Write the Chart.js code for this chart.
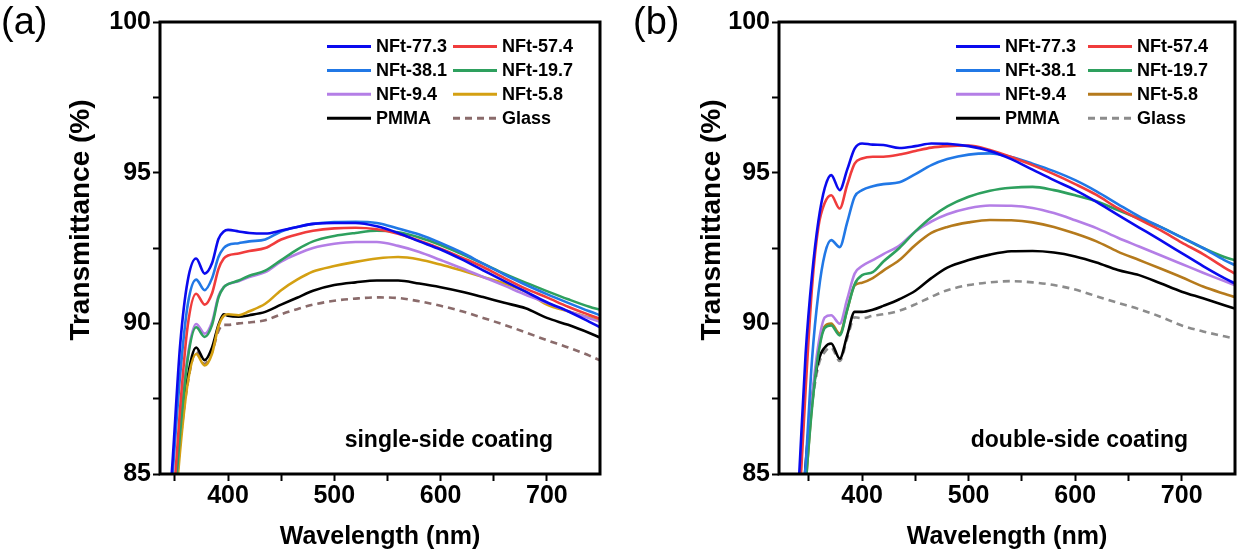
<!DOCTYPE html>
<html>
<head>
<meta charset="utf-8">
<script src="https://cdn.jsdelivr.net/npm/chart.js@4.4.1/dist/chart.umd.min.js"></script>
<style>
  body { margin: 0; background: #fff; }
  .panel { position: absolute; top: 0; height: 559px; }
  #boxA { left: 0; width: 620px; }
  #boxB { left: 620px; width: 619px; }
</style>
</head>
<body>
<div class="panel" id="boxA"><canvas id="chartA"></canvas></div>
<div class="panel" id="boxB"><canvas id="chartB"></canvas></div>
<script>
const seriesNames = ['NFt-77.3', 'NFt-57.4', 'NFt-38.1', 'NFt-19.7', 'NFt-9.4', 'NFt-5.8', 'PMMA', 'Glass'];
const xTicks = [350, 400, 450, 500, 550, 600, 650, 700];
const yTicks = [85, 87.5, 90, 92.5, 95, 97.5, 100];

// (a) single-side coating
const wavelengthA = [340, 347, 355, 362, 370, 378, 385, 391, 396, 400, 410, 420, 435, 450, 465, 480, 500, 520, 540, 560, 580, 600, 620, 640, 660, 680, 700, 720, 740, 750];
const singleNFt773 = [82.0, 85.0, 89.3, 91.4, 92.15, 91.65, 92.0, 92.8, 93.05, 93.1, 93.05, 93.0, 92.98, 93.08, 93.2, 93.3, 93.33, 93.33, 93.22, 93.0, 92.72, 92.45, 92.12, 91.76, 91.4, 91.05, 90.7, 90.4, 90.05, 89.87];
const singleNFt574 = [80.5, 83.3, 87.2, 89.9, 90.98, 90.62, 91.0, 91.8, 92.15, 92.25, 92.32, 92.4, 92.5, 92.78, 92.95, 93.07, 93.15, 93.17, 93.12, 92.97, 92.74, 92.48, 92.18, 91.87, 91.5, 91.15, 90.86, 90.55, 90.28, 90.15];
const singleNFt381 = [81.5, 84.6, 88.3, 90.6, 91.45, 91.1, 91.5, 92.2, 92.5, 92.6, 92.66, 92.72, 92.78, 93.05, 93.2, 93.3, 93.36, 93.37, 93.33, 93.15, 92.95, 92.67, 92.35, 91.98, 91.62, 91.28, 90.97, 90.68, 90.4, 90.27];
const singleNFt197 = [80.0, 82.8, 86.4, 88.8, 89.87, 89.55, 89.95, 90.85, 91.2, 91.3, 91.42, 91.58, 91.75, 92.1, 92.45, 92.72, 92.9, 93.0, 93.07, 93.02, 92.85, 92.6, 92.3, 91.98, 91.65, 91.35, 91.07, 90.8, 90.55, 90.45];
const singleNFt94 = [80.0, 82.8, 86.5, 88.9, 89.98, 89.66, 90.05, 90.9, 91.2, 91.3, 91.4, 91.54, 91.7, 92.05, 92.3, 92.5, 92.64, 92.7, 92.7, 92.57, 92.37, 92.1, 91.83, 91.54, 91.25, 90.95, 90.68, 90.4, 90.17, 90.05];
const singleNFt58 = [79.5, 82.3, 85.8, 88.0, 88.98, 88.6, 89.0, 89.9, 90.25, 90.3, 90.27, 90.4, 90.65, 91.1, 91.45, 91.72, 91.9, 92.04, 92.15, 92.2, 92.12, 91.95, 91.75, 91.54, 91.32, 91.05, 90.62, 90.4, 90.2, 90.08];
const singlePMMA = [80.0, 82.8, 86.3, 88.2, 89.2, 88.78, 89.2, 89.95, 90.3, 90.25, 90.22, 90.27, 90.38, 90.62, 90.85, 91.08, 91.27, 91.36, 91.42, 91.42, 91.32, 91.2, 91.05, 90.87, 90.68, 90.5, 90.18, 89.95, 89.68, 89.53];
const singleGlass = [80.0, 82.6, 86.0, 88.0, 89.05, 88.65, 89.05, 89.75, 89.95, 89.95, 90.0, 90.03, 90.1, 90.3, 90.47, 90.62, 90.75, 90.82, 90.86, 90.84, 90.73, 90.58, 90.4, 90.18, 89.95, 89.7, 89.44, 89.2, 88.93, 88.77];

// (b) double-side coating
const wavelengthB = [335, 341, 347, 353, 359, 365, 371, 379, 386, 393, 400, 410, 420, 435, 450, 465, 480, 500, 520, 540, 560, 580, 600, 620, 640, 660, 680, 700, 720, 740, 750];
const doubleNFt773 = [81.5, 85.0, 89.0, 91.6, 93.4, 94.5, 94.92, 94.42, 95.1, 95.8, 95.97, 95.93, 95.92, 95.82, 95.88, 95.97, 95.96, 95.88, 95.72, 95.45, 95.1, 94.75, 94.42, 94.03, 93.6, 93.18, 92.76, 92.33, 91.9, 91.5, 91.32];
const doubleNFt574 = [80.5, 83.9, 87.8, 91.2, 93.2, 94.0, 94.25, 93.81, 94.6, 95.3, 95.47, 95.53, 95.53, 95.6, 95.72, 95.83, 95.88, 95.9, 95.75, 95.52, 95.25, 94.95, 94.62, 94.26, 93.82, 93.45, 93.09, 92.68, 92.3, 91.85, 91.65];
const doubleNFt381 = [79.5, 82.6, 85.3, 88.8, 91.0, 92.3, 92.76, 92.53, 93.35, 94.2, 94.42, 94.55, 94.62, 94.68, 94.95, 95.25, 95.45, 95.6, 95.64, 95.52, 95.3, 95.05, 94.75, 94.38, 93.96, 93.55, 93.2, 92.85, 92.5, 92.1, 91.93];
const doubleNFt197 = [78.0, 81.5, 84.6, 87.2, 89.0, 89.85, 89.93, 89.6, 90.45, 91.3, 91.6, 91.7, 92.05, 92.5, 93.05, 93.52, 93.88, 94.2, 94.4, 94.5, 94.53, 94.42, 94.25, 94.05, 93.76, 93.48, 93.2, 92.85, 92.5, 92.2, 92.09];
const doubleNFt94 = [78.0, 81.6, 84.8, 87.5, 89.3, 90.2, 90.27, 89.99, 90.8, 91.65, 91.9, 92.1, 92.3, 92.58, 93.05, 93.38, 93.62, 93.82, 93.91, 93.9, 93.83, 93.66, 93.42, 93.16, 92.84, 92.55, 92.26, 91.97, 91.68, 91.4, 91.26];
const doubleNFt58 = [78.0, 81.5, 84.6, 87.3, 89.1, 89.9, 89.99, 89.66, 90.45, 91.26, 91.35, 91.5, 91.75, 92.1, 92.6, 93.0, 93.2, 93.35, 93.43, 93.42, 93.35, 93.2, 92.98, 92.72, 92.38, 92.1, 91.82, 91.53, 91.22, 90.98, 90.87];
const doublePMMA = [78.5, 82.0, 85.3, 87.5, 88.77, 89.2, 89.33, 88.83, 89.6, 90.38, 90.38, 90.45, 90.58, 90.8, 91.08, 91.5, 91.85, 92.1, 92.28, 92.39, 92.4, 92.35, 92.22, 92.02, 91.77, 91.6, 91.33, 91.05, 90.83, 90.6, 90.49];
const doubleGlass = [78.3, 81.8, 85.1, 87.3, 88.6, 89.05, 89.2, 88.75, 89.5, 90.2, 90.17, 90.25, 90.3, 90.42, 90.63, 90.88, 91.1, 91.27, 91.36, 91.4, 91.36, 91.27, 91.12, 90.9, 90.68, 90.47, 90.22, 89.93, 89.73, 89.57, 89.49];

const colorsA = ['#0a0aee', '#f03c3c', '#2178e6', '#2ea05e', '#b47ee6', '#d4a012', '#000000', '#8a6b6b'];
const colorsB = ['#0a0aee', '#f03c3c', '#2178e6', '#2ea05e', '#b47ee6', '#b57a1c', '#000000', '#8c8c8c'];

const FONT = '"Liberation Sans", Arial, sans-serif';

function makeDatasets(wl, series, colors) {
    return series.map((vals, i) => ({
        label: seriesNames[i],
        data: wl.map((x, j) => ({x: x, y: vals[j]})),
        borderColor: colors[i],
        borderWidth: 2.6,
        borderDash: seriesNames[i] === 'Glass' ? [7, 5] : [],
        pointRadius: 0,
        cubicInterpolationMode: 'monotone',
        fill: false
    }));
}

// box frame, panel letter, note and the y title (placed like the original)
const framePlugin = {
    id: 'framePlugin',
    afterDatasetsDraw(chart, args, opts) {
        const ctx = chart.ctx;
        const a = chart.chartArea;
        ctx.save();
        ctx.strokeStyle = '#000';
        ctx.lineWidth = 3;
        ctx.strokeRect(a.left, a.top, a.right - a.left, a.bottom - a.top);
        ctx.fillStyle = '#000';
        ctx.textBaseline = 'middle';
        ctx.textAlign = 'left';
        ctx.font = '38px ' + FONT;
        ctx.fillText(opts.tag, opts.tagX, 24);
        ctx.textAlign = 'right';
        ctx.font = 'bold 23px ' + FONT;
        ctx.fillText(opts.note, a.right - 47, 441);
        ctx.translate(opts.titleX, opts.titleY);
        ctx.rotate(-Math.PI / 2);
        ctx.textAlign = 'center';
        ctx.font = 'bold 28px ' + FONT;
        ctx.fillText('Transmittance (%)', 0, 0);
        ctx.restore();
    }
};

const gridLegend = {
    id: 'gridLegend',
    afterDraw(chart, args, opts) {
        const ctx = chart.ctx;
        const right = chart.chartArea.right;
        ctx.save();
        ctx.font = 'bold 18px ' + FONT;
        ctx.textBaseline = 'middle';
        ctx.textAlign = 'left';
        chart.data.datasets.forEach((ds, i) => {
            const col = i % 2;
            const row = Math.floor(i / 2);
            const x = right - (col === 0 ? opts.col1 : opts.col2);
            const y = opts.top + row * 23.9;
            ctx.strokeStyle = ds.borderColor;
            ctx.lineWidth = 3;
            ctx.setLineDash(ds.borderDash);
            ctx.beginPath();
            ctx.moveTo(x, y);
            ctx.lineTo(x + 44, y);
            ctx.stroke();
            ctx.setLineDash([]);
            ctx.fillStyle = '#000';
            ctx.fillText(ds.label, x + 49, y + 1);
        });
        ctx.restore();
    }
};

function makeChart(id, wl, series, colors, xMin, opts) {
    return new Chart(document.getElementById(id).getContext('2d'), {
        type: 'line',
        data: {datasets: makeDatasets(wl, series, colors)},
        plugins: [framePlugin, gridLegend],
        options: {
            responsive: true,
            maintainAspectRatio: false,
            animation: false,
            layout: {padding: {left: 0, top: 22, right: opts.padRight, bottom: 0}},
            plugins: {
                legend: {display: false},
                tooltip: {enabled: false},
                framePlugin: {tag: opts.tag, tagX: opts.tagX, note: opts.note, titleX: opts.titleX, titleY: 220},
                gridLegend: {col1: opts.col1, col2: 147, top: 46.5}
            },
            scales: {
                x: {
                    type: 'linear',
                    min: xMin,
                    max: 750,
                    afterBuildTicks: s => { s.ticks = xTicks.map(v => ({value: v})); },
                    afterFit: s => { s.height = 85; },
                    border: {display: false},
                    grid: {drawOnChartArea: false, drawTicks: true, tickLength: 7, tickWidth: 2, color: '#000'},
                    ticks: {
                        autoSkip: false, maxRotation: 0, padding: 0, color: '#000',
                        font: {family: FONT, size: 25, weight: 'bold'},
                        callback: v => (v % 100 === 0 ? v : '')
                    },
                    title: {
                        display: true, text: 'Wavelength (nm)', color: '#000',
                        font: {family: FONT, size: 25, weight: 'bold'},
                        padding: {top: 0, bottom: 7}
                    }
                },
                y: {
                    min: 85,
                    max: 100,
                    afterBuildTicks: s => { s.ticks = yTicks.map(v => ({value: v})); },
                    afterFit: s => { s.width = opts.axisWidth; },
                    border: {display: false},
                    grid: {drawOnChartArea: false, drawTicks: true, tickLength: 7, tickWidth: 2, color: '#000'},
                    ticks: {
                        padding: 2, color: '#000',
                        font: {family: FONT, size: 25, weight: 'bold'},
                        callback: v => (v % 5 === 0 ? v : '')
                    },
                    title: {display: false}
                }
            }
        }
    });
}

makeChart('chartA', wavelengthA,
    [singleNFt773, singleNFt574, singleNFt381, singleNFt197, singleNFt94, singleNFt58, singlePMMA, singleGlass],
    colorsA, 336,
    {padRight: 20, axisWidth: 160, titleX: 81, tag: '(a)', tagX: 1, note: 'single-side coating', col1: 273});

makeChart('chartB', wavelengthB,
    [doubleNFt773, doubleNFt574, doubleNFt381, doubleNFt197, doubleNFt94, doubleNFt58, doublePMMA, doubleGlass],
    colorsB, 322,
    {padRight: 4, axisWidth: 159, titleX: 92, tag: '(b)', tagX: 13, note: 'double-side coating', col1: 279});
</script>
</body>
</html>
